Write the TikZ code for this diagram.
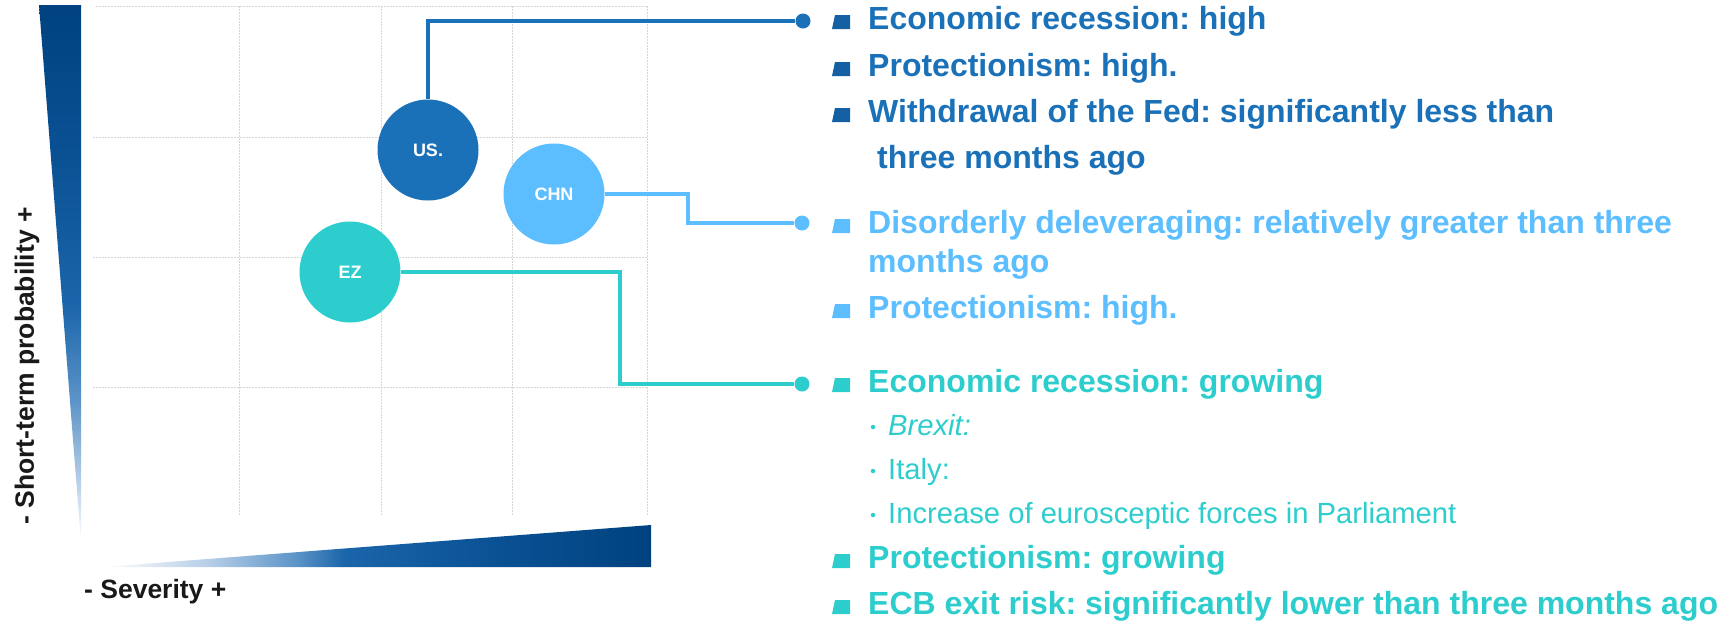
\documentclass[tikz,border=0pt]{standalone}
\usepackage{fontspec}
\setmainfont{Liberation Sans}
\usepackage{xcolor}
\usetikzlibrary{positioning,calc}
\definecolor{usblue}{HTML}{1B71B8}
\definecolor{usdark}{HTML}{1460A3}
\definecolor{chnblue}{HTML}{5CBEFF}
\definecolor{ezteal}{HTML}{2ECDCD}
\definecolor{navy}{HTML}{00427F}
\definecolor{deepblue}{HTML}{0A5194}
\definecolor{midblue}{HTML}{1B65AA}
\definecolor{fadeC}{HTML}{5D95C8}
\definecolor{fadeB}{HTML}{B3CCE6}
\definecolor{gridgray}{HTML}{D6D6D6}
\pgfdeclareverticalshading{vwedge}{100bp}{color(0bp)=(white); color(25bp)=(white); color(31bp)=(fadeB); color(38bp)=(fadeC); color(47bp)=(midblue); color(61bp)=(deepblue); color(75bp)=(navy); color(100bp)=(navy)}
\pgfdeclarehorizontalshading{hwedge}{100bp}{color(0bp)=(white); color(25bp)=(white); color(35bp)=(fadeB); color(42.5bp)=(fadeC); color(47bp)=(midblue); color(61bp)=(deepblue); color(75bp)=(navy); color(100bp)=(navy)}
\tikzset{
  country/.style={circle,fill=#1,minimum size=101pt,inner sep=0pt,text=white,font=\bfseries\fontsize{18}{20}\selectfont},
  item/.style={anchor=base west,inner sep=0pt,text=#1,font=\bfseries\fontsize{32}{38}\selectfont},
  subitem/.style={anchor=base west,inner sep=0pt,text=ezteal,font=\fontsize{29.2}{34}\selectfont},
  subdot/.style={circle,fill=ezteal,minimum size=4.5pt,inner sep=0pt},
  enddot/.style={circle,fill=#1,minimum size=15pt,inner sep=0pt},
  link/.style={draw=#1,line width=3.5pt},
  gridline/.style={gridgray,line width=0.9pt,dash pattern=on 2pt off 1pt},
  axislabel/.style={inner sep=0pt,text=black!90,font=\bfseries\fontsize{26.5}{30}\selectfont},
  sqbullet/.pic={\fill[#1] (0,0) -- (18,0) -- (18,-14) -- (3,-14) -- cycle;}
}
\frenchspacing
\begin{document}
\begin{tikzpicture}[x=1pt,y=-1pt]
\useasboundingbox (0,0) rectangle (1727,622);
% grid
\foreach \x in {239,381,512,647} \draw[gridline] (\x,6) -- (\x,515);
\draw[gridline] (96,6) -- (647,6);
\foreach \y in {137,257,387} \draw[gridline] (93,\y) -- (648,\y);
% axes
\shade[shading=vwedge] (39,5) -- (81,5) -- (81,542) -- cycle;
\shade[shading=hwedge] (103,567) -- (651,567) -- (651,525) -- cycle;
\node[axislabel,rotate=90,anchor=base] (ylab) at (34,366) {- Short-term probability +};
\node[axislabel,anchor=base west] (xlab) at (84,598) {- Severity +};
% countries
\node[country=usblue] (us) at (428,150) {US.};
\node[country=chnblue] (chn) at (554,194) {CHN};
\node[country=ezteal] (ez) at (350,272) {EZ};
\node[enddot=usblue] (usend) at (803,21) {};
\node[enddot=chnblue] (chnend) at (802,223) {};
\node[enddot=ezteal] (ezend) at (802,384) {};
\coordinate (chnbend) at (688,223);
\coordinate (ezbend) at (620,384);
\draw[link=usblue] (us.north) |- (usend);
\draw[link=chnblue] (chn.east) -| (chnbend) -- (chnend);
\draw[link=ezteal] (ez.east) -| (ezbend) -- (ezend);
% US
\pic at (832,29) {sqbullet=usdark};
\node[item=usblue] (us1) at (868,29) {Economic recession: high};
\pic at (832,76) {sqbullet=usdark};
\node[item=usblue] (us2) at (868,76) {Protectionism: high.};
\pic at (832,122) {sqbullet=usdark};
\node[item=usblue] (us3) at (868,122) {Withdrawal of the Fed: significantly less than};
\node[item=usblue] (us3b) at (877,168) {three months ago};
% CHN
\pic at (832,233) {sqbullet=chnblue};
\node[item=chnblue] (chn1) at (868,233) {Disorderly deleveraging: relatively greater than three};
\node[item=chnblue] (chn1b) at (868,272) {months ago};
\pic at (832,318) {sqbullet=chnblue};
\node[item=chnblue] (chn2) at (868,318) {Protectionism: high.};
% EZ
\pic at (832,392) {sqbullet=ezteal};
\node[item=ezteal] (ez1) at (868,392) {Economic recession: growing};
\node[subdot] (ezd1) at (873,427) {};
\node[subitem] (ez1a) at (888,435) {\itshape Brexit:};
\node[subdot] (ezd2) at (873,471) {};
\node[subitem] (ez1b) at (888,479) {Italy:};
\node[subdot] (ezd3) at (873,515) {};
\node[subitem] (ez1c) at (888,523) {Increase of eurosceptic forces in Parliament};
\pic at (832,568) {sqbullet=ezteal};
\node[item=ezteal] (ez2) at (868,568) {Protectionism: growing};
\pic at (832,614) {sqbullet=ezteal};
\node[item=ezteal] (ez3) at (868,614) {ECB exit risk: significantly lower than three months ago};
\end{tikzpicture}
\end{document}
